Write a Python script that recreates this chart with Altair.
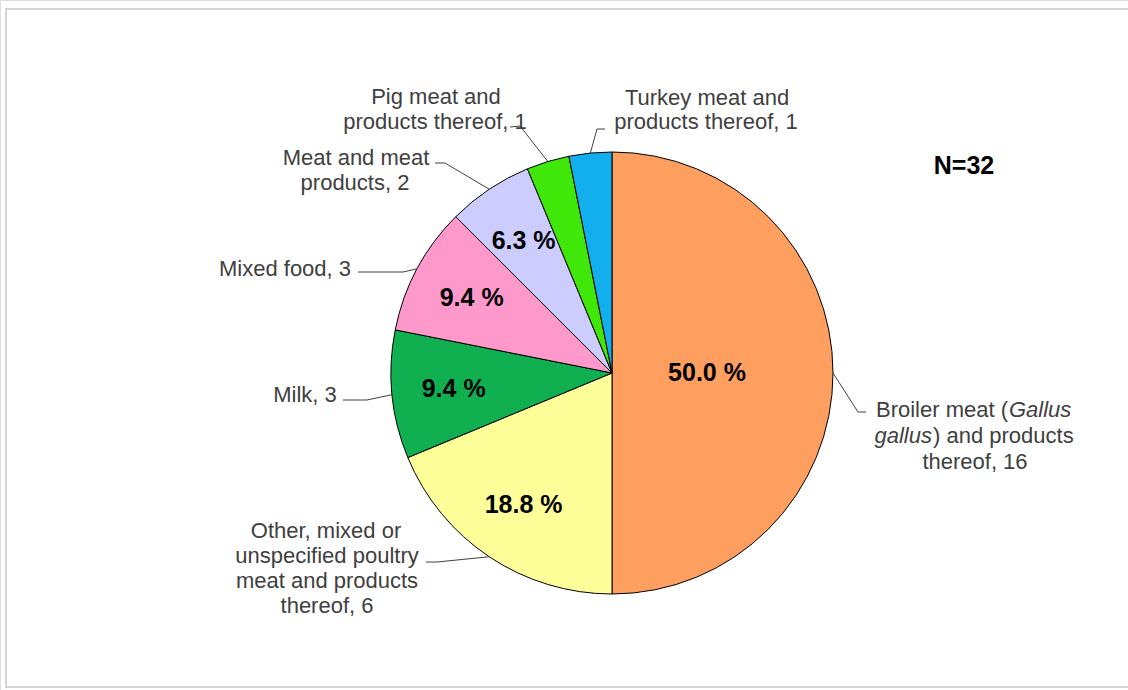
import math
import altair as alt
import pandas as pd

# ---- data ----
categories = [
    "Broiler meat (Gallus gallus) and products thereof",
    "Other, mixed or unspecified poultry meat and products thereof",
    "Milk",
    "Mixed food",
    "Meat and meat products",
    "Pig meat and products thereof",
    "Turkey meat and products thereof",
]
counts = [16, 6, 3, 3, 2, 1, 1]
colors = ["#FF9F5F", "#FFFF99", "#10AF50", "#FF99CC", "#CCCCFF", "#40E80A", "#12AEEE"]
N_TOTAL = sum(counts)

# label text lines (text, x, y, align, style) -- layout of the outside labels
label_lines = [
    ("Pig meat and", 436, 97, "center", "normal"),
    ("products thereof, 1", 435, 122, "center", "normal"),
    ("Turkey meat and", 707, 98, "center", "normal"),
    ("products thereof, 1", 706, 122, "center", "normal"),
    ("Meat and meat", 356, 158, "center", "normal"),
    ("products, 2", 355, 183, "center", "normal"),
    ("Mixed food, 3", 285, 269, "center", "normal"),
    ("Milk, 3", 305, 395, "center", "normal"),
    ("Other, mixed or", 326, 531, "center", "normal"),
    ("unspecified poultry", 327, 556, "center", "normal"),
    ("meat and products", 327, 581, "center", "normal"),
    ("thereof, 6", 327, 606, "center", "normal"),
    ("Broiler meat (", 1008, 410, "right", "normal"),
    ("Gallus", 1009, 410, "left", "italic"),
    ("gallus", 932, 436, "right", "italic"),
    (") and products", 933, 436, "left", "normal"),
    ("thereof, 16", 975, 462, "center", "normal"),
]

# leader line elbow/end points per category (layout)
leader_layout = {
    categories[0]: [(858, 412), (866, 412)],
    categories[1]: [(437, 562), (426, 562)],
    categories[2]: [(367, 400), (343, 400)],
    categories[3]: [(403, 272), (358, 272)],
    categories[4]: [(445, 163), (435, 163)],
    categories[5]: [(520, 126), (510, 127)],
    categories[6]: [(597, 129), (605, 129)],
}

CX, CY, R = 612, 373, 221
FONT = "Liberation Sans"


def pct_text(c):
    p = math.floor(1000.0 * c / N_TOTAL + 0.5) / 10.0
    return f"{p:.1f} %"


df = pd.DataFrame({
    "category": categories,
    "count": counts,
    "order": list(range(len(categories))),
})
# big slice label sits nearer the centre; small-slice labels further out
df["pct_in"] = [pct_text(c) if c / N_TOTAL >= 0.5 else "" for c in counts]
df["pct_out"] = [pct_text(c) if (c >= 2 and c / N_TOTAL < 0.5) else "" for c in counts]

# leader lines: start on the arc at each slice's mid angle
rows = []
cum = 0
for cat, c in zip(categories, counts):
    mid = (cum + c / 2) / N_TOTAL * 2 * math.pi
    cum += c
    ax = CX + R * math.sin(mid)
    ay = CY - R * math.cos(mid)
    pts = [(ax, ay)] + leader_layout[cat]
    for i, (px, py) in enumerate(pts):
        rows.append({"category": cat, "seq": i, "px": px, "py": py})
leader_df = pd.DataFrame(rows)

lab_df = pd.DataFrame(label_lines, columns=["text", "px", "py", "align", "style"])

base = alt.Chart(df).encode(
    theta=alt.Theta("count:Q", stack=True),
    order=alt.Order("order:Q"),
    x=alt.value(CX),
    y=alt.value(CY),
)

pie = base.mark_arc(outerRadius=R, stroke="#000000", strokeWidth=1).encode(
    color=alt.Color("category:N", scale=alt.Scale(domain=categories, range=colors), legend=None),
)

pct_in = base.mark_text(font=FONT, fontSize=25, fontWeight="bold", color="#000000",
                        baseline="middle", align="center", radius=0.43 * R).encode(
    detail="category:N",
    text="pct_in:N",
)
pct_out = base.mark_text(font=FONT, fontSize=25, fontWeight="bold", color="#000000",
                         baseline="middle", align="center", radius=0.72 * R).encode(
    detail="category:N",
    text="pct_out:N",
)

leaders = alt.Chart(leader_df).mark_line(color="#404040", strokeWidth=1).encode(
    x=alt.X("px:Q", scale=None),
    y=alt.Y("py:Q", scale=None),
    detail="category:N",
    order="seq:Q",
)

text_layers = []
for al in ["center", "left", "right"]:
    for st in ["normal", "italic"]:
        sub = lab_df[(lab_df["align"] == al) & (lab_df["style"] == st)]
        if len(sub) == 0:
            continue
        text_layers.append(
            alt.Chart(sub).mark_text(font=FONT, fontSize=22, fontStyle=st, color="#404040",
                                     align=al, baseline="middle").encode(
                x=alt.X("px:Q", scale=None),
                y=alt.Y("py:Q", scale=None),
                text="text:N",
            )
        )

ntext = alt.Chart(pd.DataFrame({"t": [f"N={N_TOTAL}"]})).mark_text(
    font=FONT, fontSize=25, fontWeight="bold", color="#000000", align="center", baseline="middle"
).encode(x=alt.value(964), y=alt.value(166), text="t:N")

frame = alt.Chart(pd.DataFrame({"a": [0]})).mark_rect(
    fill="#ffffff", fillOpacity=0, stroke="#d4d4d4", strokeWidth=2
).encode(x=alt.value(6), x2=alt.value(1170), y=alt.value(9), y2=alt.value(687))

chart = alt.layer(frame, pie, pct_in, pct_out, leaders, *text_layers, ntext).properties(
    width=1128, height=690, padding=0, autosize=alt.AutoSizeParams(type="none")
).configure_view(stroke=None).configure(background="#ffffff")

chart.save("out.html", embed_options={"renderer": "svg", "actions": False})
